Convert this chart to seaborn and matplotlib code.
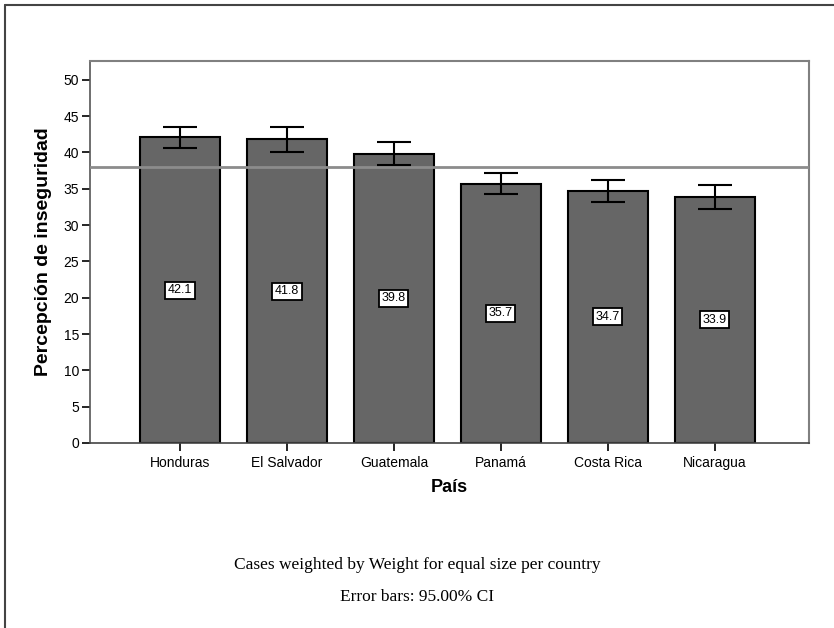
import numpy as np
import matplotlib.pyplot as plt
import pandas as pd
import seaborn as sns
from matplotlib.lines import Line2D

sns.set_theme(style='white', rc={'text.color': 'black', 'axes.labelcolor': 'black',
                                 'xtick.color': 'black', 'ytick.color': 'black'})
plt.rcParams['font.family'] = ['Liberation Sans', 'DejaVu Sans']

# valores
paises = ['Honduras', 'El Salvador', 'Guatemala', 'Panamá', 'Costa Rica', 'Nicaragua']
medias = [42.1, 41.8, 39.8, 35.7, 34.7, 33.9]
ci_bajo = [40.6, 40.1, 38.3, 34.3, 33.2, 32.2]
ci_alto = [43.5, 43.5, 41.5, 37.2, 36.2, 35.5]
media_general = 38.0
yticks = [0, 5, 10, 15, 20, 25, 30, 35, 40, 45, 50]

df = pd.DataFrame({'pais': paises, 'media': medias, 'lo': ci_bajo, 'hi': ci_alto})

fig = plt.figure(figsize=(8.34, 6.28), dpi=100)
ax = fig.add_axes([0.108, 0.2946, 0.862, 0.6083])

sns.barplot(data=df, x='pais', y='media', color='#666666', saturation=1,
            edgecolor='black', linewidth=1.5, width=0.75, errorbar=None, ax=ax)

pos = np.arange(len(df))
ax.errorbar(pos, df['media'], yerr=[df['media'] - df['lo'], df['hi'] - df['media']],
            fmt='none', ecolor='black', elinewidth=1.5, capsize=12, capthick=1.5, zorder=5)

ax.axhline(media_general, color='#8c8c8c', lw=2, zorder=4)

for i, v in enumerate(df['media']):
    ax.text(i, v / 2, f'{v:.1f}', ha='center', va='center', fontsize=9, zorder=6,
            bbox=dict(boxstyle='square,pad=0.2', fc='white', ec='black', lw=1.3))

ax.set_xlim(-0.84, 5.88)
ax.set_ylim(0, 52.6)
ax.set_yticks(yticks)
ax.tick_params(axis='both', direction='out', length=6, width=1.2, color='black',
               labelsize=10, left=True, bottom=True)
ax.tick_params(axis='y', pad=2)
ax.set_xlabel('País', fontsize=13, fontweight='bold', labelpad=6)
ax.set_ylabel('Percepción de inseguridad', fontsize=14, fontweight='bold', labelpad=8)

for s in ['top', 'right']:
    ax.spines[s].set_color('#808080')
    ax.spines[s].set_linewidth(1.5)
ax.spines['left'].set_color('#555555')
ax.spines['bottom'].set_color('#444444')
for s in ['left', 'bottom']:
    ax.spines[s].set_linewidth(1.2)

fig.text(0.5, 1 - 565 / 628, 'Cases weighted by Weight for equal size per country',
         ha='center', va='center', fontsize=12.5, family='Liberation Serif')
fig.text(0.5, 1 - 597 / 628, 'Error bars: 95.00% CI',
         ha='center', va='center', fontsize=12.5, family='Liberation Serif')

# marco exterior (solo arriba e izquierda)
fig.add_artist(Line2D([4.5 / 834, 1], [1 - 4.5 / 628, 1 - 4.5 / 628], color='#444444', lw=1.5))
fig.add_artist(Line2D([4.5 / 834, 4.5 / 834], [0, 1 - 4.5 / 628], color='#444444', lw=1.5))

fig.savefig('out.png', dpi=100)
plt.close()
